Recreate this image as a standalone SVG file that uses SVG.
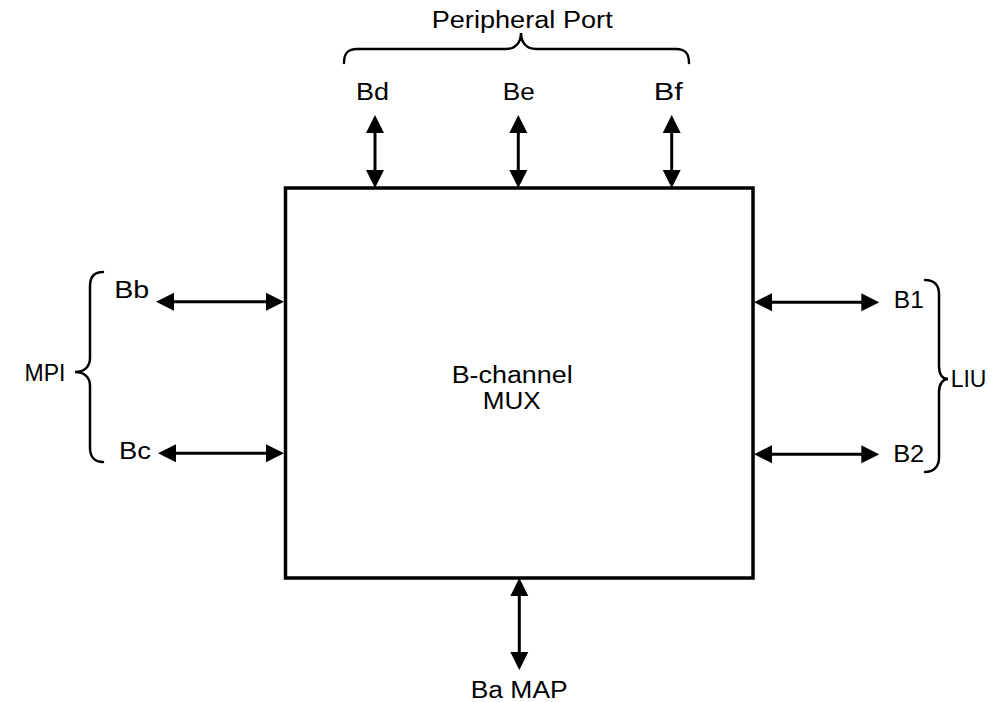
<svg xmlns="http://www.w3.org/2000/svg" width="1001" height="702" viewBox="0 0 1001 702">
<style>
text{font-family:"Liberation Sans",Arial,sans-serif;font-size:23px;fill:#000}
.c{text-anchor:middle}
.box{fill:#fff;stroke:#000;stroke-width:3.5}
.ln{stroke:#000;stroke-width:3;fill:none}
.br{stroke:#000;stroke-width:2.5;fill:none;stroke-linecap:round}
</style>
<defs>
<marker id="ah" markerUnits="userSpaceOnUse" markerWidth="18" markerHeight="20" viewBox="0 0 18 20" refX="14" refY="10" orient="auto-start-reverse">
<path d="M0,1 L18,10 L0,19 Z" fill="#000"/>
</marker>
</defs>
<rect width="1001" height="702" fill="#fff"/>
<g id="mux">
<rect class="box" x="285.5" y="188" width="467.5" height="390"/>
<text class="c" x="512.2" y="382.7" textLength="121" lengthAdjust="spacingAndGlyphs">B-channel</text>
<text class="c" x="511.7" y="409.3" textLength="58" lengthAdjust="spacingAndGlyphs">MUX</text>
</g>
<g id="peripheral">
<path class="br" d="M344,63 C344,53 348,49 357,49 L506,49 C515,49 521,43 521,33 C521,43 527,49 536,49 L676,49 C685,49 689,53 689,63"/>
<text class="c" x="522.2" y="28.3" textLength="181" lengthAdjust="spacingAndGlyphs">Peripheral Port</text>
</g>
<g id="bd"><text class="c" x="372.5" y="100" textLength="33" lengthAdjust="spacingAndGlyphs">Bd</text></g>
<g id="be"><text class="c" x="518.7" y="100" textLength="32" lengthAdjust="spacingAndGlyphs">Be</text></g>
<g id="bf"><text class="c" x="668.3" y="100" textLength="29" lengthAdjust="spacingAndGlyphs">Bf</text></g>
<g id="mpi">
<path class="br" d="M103,272 C95,272 90,276 90,286 L90,358 C90,367 84,372 75,372 C84,372 90,377 90,386 L90,448 C90,457 95,462 103,462"/>
<text class="c" x="45" y="381">MPI</text>
</g>
<g id="bb"><text class="c" x="131.7" y="297.5" textLength="35" lengthAdjust="spacingAndGlyphs">Bb</text></g>
<g id="bc"><text class="c" x="135" y="458.5" textLength="32" lengthAdjust="spacingAndGlyphs">Bc</text></g>
<g id="liu">
<path class="br" d="M925,280 C933,280 939,284 939,294 L939,366 C939,375 943,379 948,379 C943,379 939,384 939,392 L939,458 C939,467 933,472 925,472"/>
<text x="950.7" y="386.5">LIU</text>
</g>
<g id="b1"><text class="c" x="908.8" y="307.5" textLength="30" lengthAdjust="spacingAndGlyphs">B1</text></g>
<g id="b2"><text class="c" x="908.7" y="461.5" textLength="31" lengthAdjust="spacingAndGlyphs">B2</text></g>
<g id="bamap"><text class="c" x="519.2" y="698" textLength="97" lengthAdjust="spacingAndGlyphs">Ba MAP</text></g>
<g id="connectors">
<line class="ln" x1="375" y1="119" x2="375" y2="184" marker-start="url(#ah)" marker-end="url(#ah)"/>
<line class="ln" x1="518.3" y1="119" x2="518.3" y2="184" marker-start="url(#ah)" marker-end="url(#ah)"/>
<line class="ln" x1="671.7" y1="119" x2="671.7" y2="184" marker-start="url(#ah)" marker-end="url(#ah)"/>
<line class="ln" x1="160" y1="301.7" x2="280" y2="301.7" marker-start="url(#ah)" marker-end="url(#ah)"/>
<line class="ln" x1="162" y1="453.3" x2="280" y2="453.3" marker-start="url(#ah)" marker-end="url(#ah)"/>
<line class="ln" x1="758" y1="302.3" x2="875.3" y2="302.3" marker-start="url(#ah)" marker-end="url(#ah)"/>
<line class="ln" x1="758" y1="454.3" x2="875.3" y2="454.3" marker-start="url(#ah)" marker-end="url(#ah)"/>
<line class="ln" x1="519.3" y1="582" x2="519.3" y2="666" marker-start="url(#ah)" marker-end="url(#ah)"/>
</g>
</svg>
